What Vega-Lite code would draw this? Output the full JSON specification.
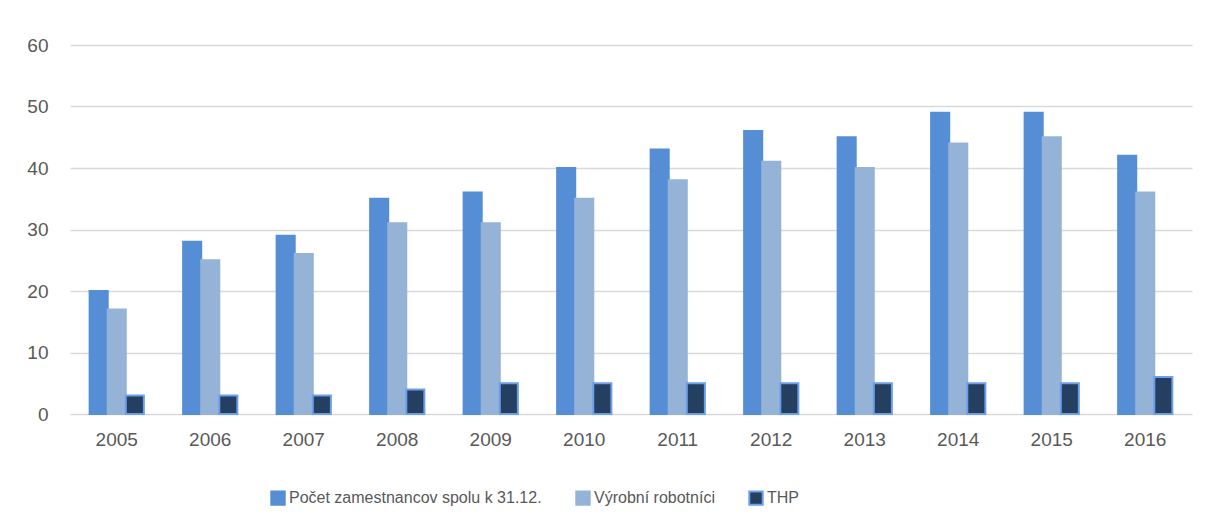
{
  "$schema": "https://vega.github.io/schema/vega-lite/v6.json",
  "autosize": "none",
  "width": 1122,
  "height": 369,
  "padding": {"left": 70, "top": 45, "right": 18, "bottom": 113},
  "background": "white",
  "config": {
    "view": {"stroke": null},
    "font": "Liberation Sans",
    "axis": {"labelFont": "Liberation Sans", "labelColor": "#595959", "labelFontSize": 19}
  },
  "data": {
    "values": [
      {"year": "2005", "series": "Počet zamestnancov spolu k 31.12.", "value": 20},
      {"year": "2005", "series": "Výrobní robotníci", "value": 17},
      {"year": "2005", "series": "THP", "value": 3},
      {"year": "2006", "series": "Počet zamestnancov spolu k 31.12.", "value": 28},
      {"year": "2006", "series": "Výrobní robotníci", "value": 25},
      {"year": "2006", "series": "THP", "value": 3},
      {"year": "2007", "series": "Počet zamestnancov spolu k 31.12.", "value": 29},
      {"year": "2007", "series": "Výrobní robotníci", "value": 26},
      {"year": "2007", "series": "THP", "value": 3},
      {"year": "2008", "series": "Počet zamestnancov spolu k 31.12.", "value": 35},
      {"year": "2008", "series": "Výrobní robotníci", "value": 31},
      {"year": "2008", "series": "THP", "value": 4},
      {"year": "2009", "series": "Počet zamestnancov spolu k 31.12.", "value": 36},
      {"year": "2009", "series": "Výrobní robotníci", "value": 31},
      {"year": "2009", "series": "THP", "value": 5},
      {"year": "2010", "series": "Počet zamestnancov spolu k 31.12.", "value": 40},
      {"year": "2010", "series": "Výrobní robotníci", "value": 35},
      {"year": "2010", "series": "THP", "value": 5},
      {"year": "2011", "series": "Počet zamestnancov spolu k 31.12.", "value": 43},
      {"year": "2011", "series": "Výrobní robotníci", "value": 38},
      {"year": "2011", "series": "THP", "value": 5},
      {"year": "2012", "series": "Počet zamestnancov spolu k 31.12.", "value": 46},
      {"year": "2012", "series": "Výrobní robotníci", "value": 41},
      {"year": "2012", "series": "THP", "value": 5},
      {"year": "2013", "series": "Počet zamestnancov spolu k 31.12.", "value": 45},
      {"year": "2013", "series": "Výrobní robotníci", "value": 40},
      {"year": "2013", "series": "THP", "value": 5},
      {"year": "2014", "series": "Počet zamestnancov spolu k 31.12.", "value": 49},
      {"year": "2014", "series": "Výrobní robotníci", "value": 44},
      {"year": "2014", "series": "THP", "value": 5},
      {"year": "2015", "series": "Počet zamestnancov spolu k 31.12.", "value": 49},
      {"year": "2015", "series": "Výrobní robotníci", "value": 45},
      {"year": "2015", "series": "THP", "value": 5},
      {"year": "2016", "series": "Počet zamestnancov spolu k 31.12.", "value": 42},
      {"year": "2016", "series": "Výrobní robotníci", "value": 36},
      {"year": "2016", "series": "THP", "value": 6}
    ]
  },
  "mark": {"type": "bar", "strokeWidth": 2},
  "encoding": {
    "x": {
      "field": "year", "type": "nominal",
      "scale": {"paddingInner": 0.42, "paddingOuter": 0.21},
      "axis": {"title": null, "labelAngle": 0, "ticks": false, "domain": false, "labelPadding": 16}
    },
    "xOffset": {
      "field": "series", "type": "nominal",
      "sort": ["Počet zamestnancov spolu k 31.12.", "Výrobní robotníci", "THP"],
      "scale": {"paddingInner": 0, "paddingOuter": 0}
    },
    "y": {
      "field": "value", "type": "quantitative",
      "scale": {"domain": [0, 60]},
      "axis": {"title": null, "values": [0,10,20,30,40,50,60], "labelOverlap": false, "ticks": false, "domain": false, "labelPadding": 22, "gridColor": "#d9d9d9", "gridWidth": 1.5}
    },
    "fill": {
      "field": "series", "type": "nominal",
      "sort": ["Počet zamestnancov spolu k 31.12.", "Výrobní robotníci", "THP"],
      "scale": {"domain": ["Počet zamestnancov spolu k 31.12.", "Výrobní robotníci", "THP"], "range": ["#558ed5", "#95b3d7", "#243f60"]},
      "legend": {
        "title": null, "orient": "none", "direction": "horizontal", "legendX": 200, "legendY": 445,
        "labelFont": "Liberation Sans", "labelFontSize": 16, "labelColor": "#595959", "labelLimit": 500,
        "symbolType": "square", "symbolSize": 180, "symbolStrokeWidth": 2,
        "columnPadding": 30, "labelOffset": 3
      }
    },
    "stroke": {
      "field": "series", "type": "nominal",
      "sort": ["Počet zamestnancov spolu k 31.12.", "Výrobní robotníci", "THP"],
      "scale": {"domain": ["Počet zamestnancov spolu k 31.12.", "Výrobní robotníci", "THP"], "range": ["#558ed5", "#95b3d7", "#6d9eeb"]}
    }
  }
}
